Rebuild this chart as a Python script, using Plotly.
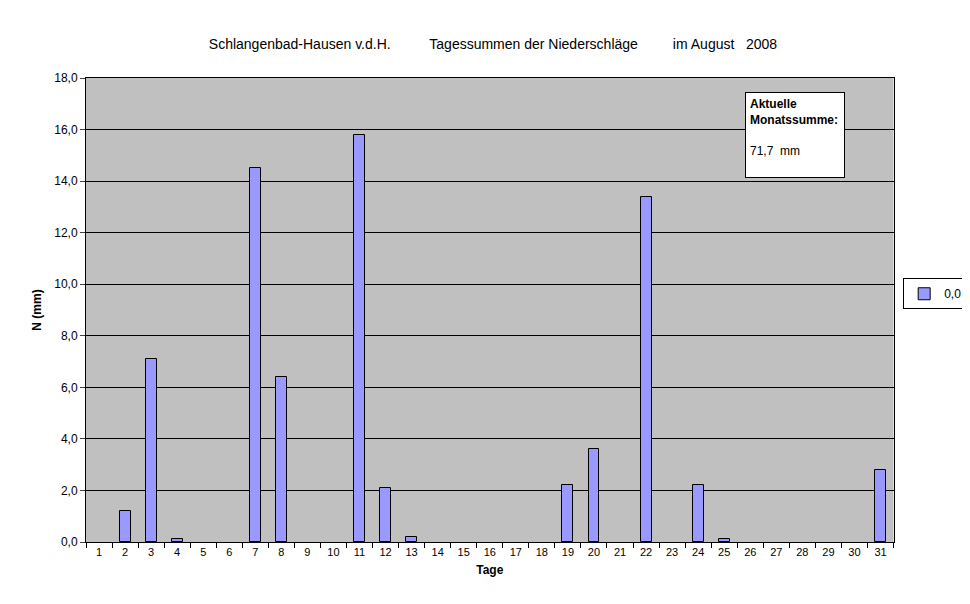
import plotly.graph_objects as go

days = list(range(1, 32))
rain = [0, 1.2, 7.1, 0.1, 0, 0, 14.5, 6.4, 0, 0, 15.8, 2.1, 0.2, 0, 0, 0, 0, 0, 2.2, 3.6, 0, 13.4, 0, 2.2, 0.1, 0, 0, 0, 0, 0, 2.8]
y_ticks = [0, 2, 4, 6, 8, 10, 12, 14, 16, 18]
y_labels = [f"{v:.1f}".replace(".", ",") for v in y_ticks]

plot_vals = [v if v > 0 else None for v in rain]
fig = go.Figure(go.Bar(x=days, y=plot_vals, width=0.42, name="0,0",
                       marker=dict(color="#9999ff", line=dict(color="black", width=1))))
font = "Arial, Liberation Sans, sans-serif"
fig.update_layout(
    width=970, height=604, paper_bgcolor="white", plot_bgcolor="#c0c0c0",
    margin=dict(l=78, r=10, t=70, b=70),
    font=dict(family=font, size=12, color="black"),
    title=dict(text="Schlangenbad-Hausen v.d.H.          Tagessummen der Niederschläge         im August   2008",
               x=0.5, xanchor="center", y=0.948, font=dict(size=14)),
    showlegend=True,
    legend=dict(x=0.958, y=0.535, xanchor="left", yanchor="middle", bordercolor="black", borderwidth=1,
                bgcolor="white", font=dict(size=12), itemwidth=30),
    bargap=0,
)
fig.update_xaxes(domain=[0, 0.9467], range=[0.5, 31.5], tickvals=days, ticktext=[str(d) for d in days], ticks="",
                 showline=True, linecolor="black", mirror=True, showgrid=False, tickfont=dict(size=11),
                 minor=dict(tickvals=[d + 0.5 for d in range(0, 32)], ticks="outside", ticklen=5, tickcolor="black"),
                 title=dict(text="<b>Tage</b>", font=dict(size=12), standoff=8))
fig.update_yaxes(range=[0, 18], tickvals=y_ticks, ticktext=y_labels, ticks="outside", ticklen=5,
                 showline=True, linecolor="black", mirror=True, gridcolor="black", gridwidth=1,
                 tickfont=dict(size=12), zeroline=False,
                 title=dict(text="<b>N (mm)</b>", font=dict(size=12), standoff=10))
fig.add_annotation(xref="x", yref="y", x=25.8, y=17.45, xanchor="left", yanchor="top", align="left",
                   text="<b>Aktuelle<br>Monatssumme:</b><br><br>71,7  mm            <br> ",
                   showarrow=False, bgcolor="white", bordercolor="black", borderwidth=1, borderpad=4,
                   font=dict(size=12))
fig.write_html("out.html")
